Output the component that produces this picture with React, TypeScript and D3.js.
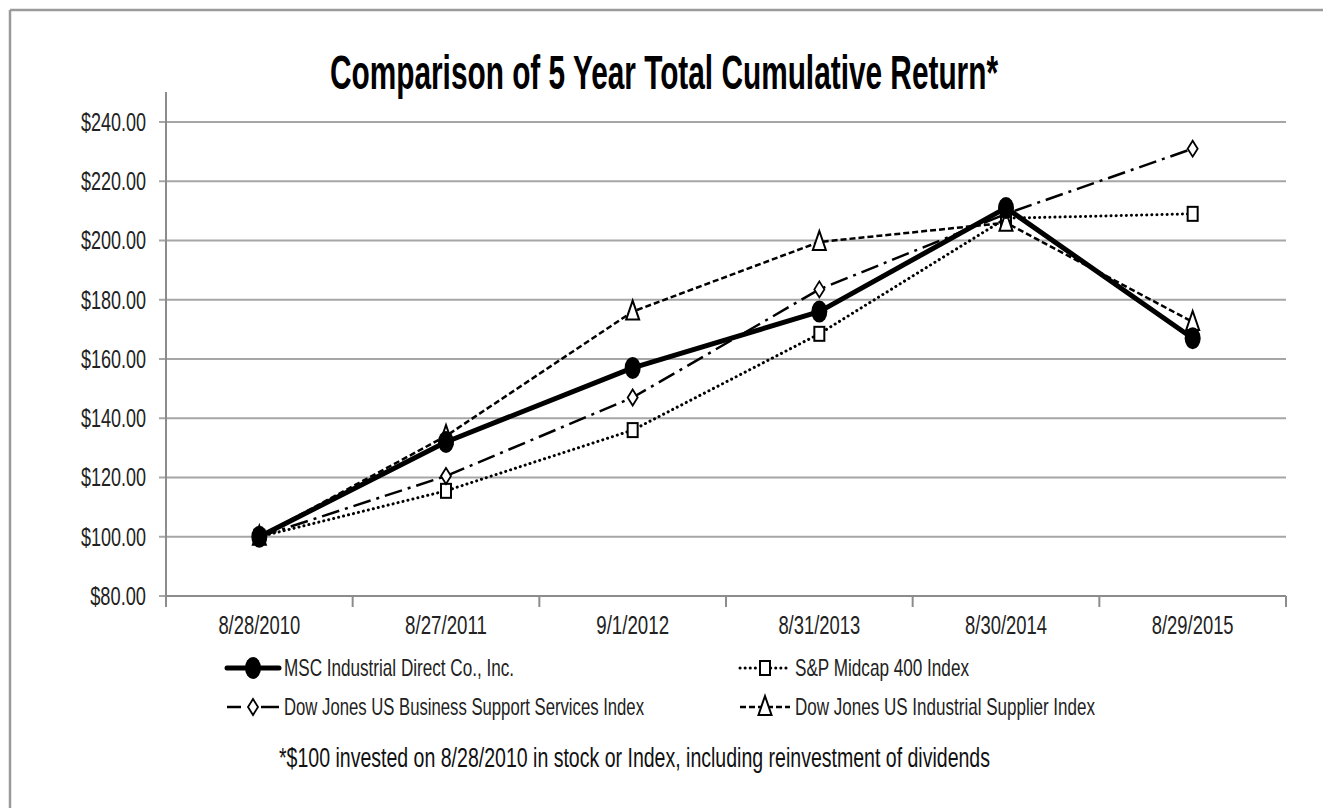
import * as d3 from 'd3';

// chart data
const dates = ['8/28/2010', '8/27/2011', '9/1/2012', '8/31/2013', '8/30/2014', '8/29/2015'];
const mscValues = [100, 132, 157, 176, 211, 167];
const midcapValues = [100, 115.5, 136, 168.5, 207.5, 209];
const businessValues = [100, 120.5, 147, 183.5, 209, 231];
const supplierValues = [100, 134, 176, 199.5, 206, 172.5];
const seriesNames = [
  'MSC Industrial Direct Co., Inc.',
  'S&P Midcap 400 Index',
  'Dow Jones US Business Support Services Index',
  'Dow Jones US Industrial Supplier Index',
];
const yTicks = [80, 100, 120, 140, 160, 180, 200, 220, 240];

const W = 1323;
const H = 808;
const FONT = "'Liberation Sans Narrow', 'Liberation Sans', Arial, sans-serif";

type Marker = 'circle' | 'square' | 'diamond' | 'triangle';

const styles: { width: number; dash: string; cap: 'round' | 'butt'; marker: Marker }[] = [
  { width: 5, dash: '', cap: 'round', marker: 'circle' },
  { width: 3, dash: '0.1 5', cap: 'round', marker: 'square' },
  { width: 2.5, dash: '18 6 3 6', cap: 'butt', marker: 'diamond' },
  { width: 2.5, dash: '6 3', cap: 'butt', marker: 'triangle' },
];

function MarkerShape({ kind, x, y }: { kind: Marker; x: number; y: number }) {
  if (kind === 'circle') return <ellipse cx={x} cy={y} rx={8} ry={11} fill="#000" />;
  if (kind === 'square')
    return <rect x={x - 5} y={y - 7} width={10} height={14} fill="#fff" stroke="#000" strokeWidth={2} />;
  if (kind === 'diamond')
    return (
      <path d={`M${x},${y - 8}L${x + 5},${y}L${x},${y + 8}L${x - 5},${y}Z`} fill="#fff" stroke="#000" strokeWidth={1.8} />
    );
  return (
    <path d={`M${x},${y - 11}L${x + 6.5},${y + 8}L${x - 6.5},${y + 8}Z`} fill="#fff" stroke="#000" strokeWidth={2} />
  );
}

export default function App() {
  const left = 166;
  const right = 1286;
  const top = 92;
  const bottom = 596;

  const x = d3.scaleBand<string>().domain(dates).range([left, right]);
  const y = d3.scaleLinear().domain([80, 240]).range([bottom, 122]);
  const cx = (d: string) => (x(d) ?? 0) + x.bandwidth() / 2;

  const allSeries = [mscValues, midcapValues, businessValues, supplierValues];
  const line = d3
    .line<number>()
    .x((_, i) => cx(dates[i]))
    .y((v) => y(v));

  const fmt = d3.format('$.2f');
  const drawOrder = [1, 2, 3, 0];

  const legendPos = [
    { sx: 227, sw: 52, tx: 284, ty: 668, tw: 230 },
    { sx: 740, sw: 50, tx: 795, ty: 668, tw: 174 },
    { sx: 227, sw: 52, tx: 284, ty: 707, tw: 360 },
    { sx: 740, sw: 50, tx: 795, ty: 707, tw: 300 },
  ];

  return (
    <svg width={W} height={H} style={{ position: 'absolute', left: 0, top: 0, background: '#fff' }} fontFamily={FONT}>
      <rect x={0} y={0} width={W} height={H} fill="#fff" />
      {/* frame */}
      <line x1={10} y1={10} x2={W} y2={10} stroke="#9a9a9a" strokeWidth={2.5} />
      <line x1={10} y1={10} x2={10} y2={H} stroke="#9a9a9a" strokeWidth={2.5} />

      <text x={664} y={89} textAnchor="middle" fontSize={49} fontWeight="bold" textLength={668} lengthAdjust="spacingAndGlyphs" fill="#000">
        Comparison of 5 Year Total Cumulative Return*
      </text>

      {/* grid + y axis */}
      {yTicks.map((t) => (
        <g key={t}>
          <line x1={left - 7} x2={right} y1={y(t)} y2={y(t)} stroke="#a6a6a6" strokeWidth={2} />
          <text
            x={146}
            y={y(t)}
            dy="0.35em"
            textAnchor="end"
            fontSize={25}
            fill="#222"
            textLength={fmt(t).length * 9.3}
            lengthAdjust="spacingAndGlyphs"
          >
            {fmt(t)}
          </text>
        </g>
      ))}
      <line x1={left} x2={left} y1={top} y2={bottom} stroke="#8c8c8c" strokeWidth={2} />
      <line x1={left} x2={right} y1={bottom} y2={bottom} stroke="#8c8c8c" strokeWidth={2} />
      {dates.concat(['end']).map((d, i) => {
        const xx = left + i * x.bandwidth();
        return <line key={d} x1={xx} x2={xx} y1={bottom} y2={bottom + 11} stroke="#8c8c8c" strokeWidth={2} />;
      })}
      {dates.map((d) => (
        <text
          key={d}
          x={cx(d)}
          y={625}
          dy="0.35em"
          textAnchor="middle"
          fontSize={25}
          fill="#222"
          textLength={d.length * 9.1}
          lengthAdjust="spacingAndGlyphs"
        >
          {d}
        </text>
      ))}

      {/* series */}
      {drawOrder.map((si) => {
        const s = styles[si];
        return (
          <g key={si}>
            <path
              d={line(allSeries[si]) ?? ''}
              fill="none"
              stroke="#000"
              strokeWidth={s.width}
              strokeDasharray={s.dash || undefined}
              strokeLinecap={s.cap}
              strokeLinejoin="round"
            />
            {allSeries[si].map((v, i) => (
              <MarkerShape key={i} kind={s.marker} x={cx(dates[i])} y={y(v)} />
            ))}
          </g>
        );
      })}

      {/* legend */}
      {seriesNames.map((name, si) => {
        const s = styles[si];
        const p = legendPos[si];
        const mid = p.sx + p.sw / 2;
        return (
          <g key={name}>
            {si === 2 ? (
              <>
                <line x1={p.sx} x2={p.sx + 14} y1={p.ty} y2={p.ty} stroke="#000" strokeWidth={2.5} />
                <line x1={mid + 8} x2={p.sx + p.sw} y1={p.ty} y2={p.ty} stroke="#000" strokeWidth={2.5} />
              </>
            ) : (
              <line
                x1={p.sx}
                x2={p.sx + p.sw}
                y1={p.ty}
                y2={p.ty}
                stroke="#000"
                strokeWidth={s.width}
                strokeDasharray={s.dash || undefined}
                strokeLinecap={s.cap}
              />
            )}
            <MarkerShape kind={s.marker} x={mid} y={p.ty} />
            <text
              x={p.tx}
              y={p.ty}
              dy="0.35em"
              fontSize={24}
              fill="#222"
              textLength={p.tw}
              lengthAdjust="spacingAndGlyphs"
            >
              {name}
            </text>
          </g>
        );
      })}

      <text x={279} y={758} dy="0.35em" fontSize={27} fill="#111" textLength={711} lengthAdjust="spacingAndGlyphs">
        *$100 invested on 8/28/2010 in stock or Index, including reinvestment of dividends
      </text>
    </svg>
  );
}
